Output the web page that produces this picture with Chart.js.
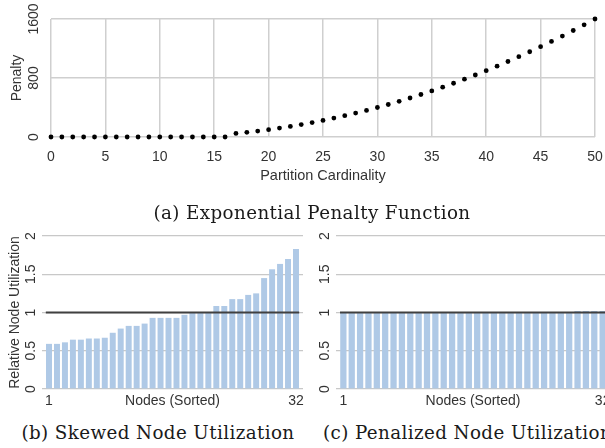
<!DOCTYPE html>
<html><head><meta charset="utf-8">
<script src="https://cdn.jsdelivr.net/npm/chart.js@4/dist/chart.umd.min.js"></script>
<style>
html,body{margin:0;padding:0;background:#fff;overflow:hidden;width:605px;height:448px;}
#wrap{position:relative;width:605px;height:448px;overflow:hidden;background:#fff;}
canvas{position:absolute;display:block;}
.cap{position:absolute;font-family:"DejaVu Serif",serif;font-size:18.3px;letter-spacing:0.4px;color:#1a1a1a;white-space:nowrap;line-height:22px;height:22px;}
</style></head><body>
<div id="wrap">
<canvas id="ca" width="605" height="195" style="left:0;top:0"></canvas>
<canvas id="cb" width="310" height="190" style="left:0;top:222px"></canvas>
<canvas id="cc" width="310" height="190" style="left:310px;top:222px"></canvas>
<div class="cap" style="left:312px;top:202px;transform:translateX(-50%)">(a) Exponential Penalty Function</div>
<div class="cap" style="left:158px;top:422px;transform:translateX(-50%)">(b) Skewed Node Utilization</div>
<div class="cap" style="left:323px;top:422px">(c) Penalized Node Utilization</div>
</div>
<script>
// ---- data ----
const cardinality = [0,1,2,3,4,5,6,7,8,9,10,11,12,13,14,15,16,17,18,19,20,21,22,23,24,25,26,27,28,29,30,31,32,33,34,35,36,37,38,39,40,41,42,43,44,45,46,47,48,49,50];
const penalty = [0,0,0,0,0,0,0,0,0,0,0,0,0,0,0,0,0,49,64,81,100,121,144,169,196,225,256,289,324,361,400,441,484,529,576,625,676,729,784,841,900,961,1024,1089,1156,1225,1296,1369,1444,1521,1600];
const penaltyTickLabels = [0, 800, 1600];

const nodes = [1,2,3,4,5,6,7,8,9,10,11,12,13,14,15,16,17,18,19,20,21,22,23,24,25,26,27,28,29,30,31,32];
const skewedUtil = [0.59,0.59,0.61,0.645,0.645,0.66,0.66,0.67,0.735,0.79,0.825,0.825,0.855,0.93,0.93,0.93,0.93,0.97,1.0,1.0,1.0,1.085,1.085,1.175,1.175,1.23,1.25,1.45,1.565,1.635,1.7,1.83];
const penalizedUtil = [1,1,1,1,1,1,1,1,1,1,1,1,1,1,1,1,1,1,1,1,1,1,1,1,1,1,1,1,1.02,1.02,1.02,1.02];
const fairShare = 1;
const fairShareSpan = [0.6, 32.4];
const nodeTickValues = [1, 16.5, 32];
const nodeAxisTitle = 'Nodes (Sorted)';

// ---- styles ----
const FONT = '"Liberation Sans", Arial, sans-serif';
const TXT = '#333333';
const GRID = '#cfcfcf';
const BAR = '#afc9e6';
const REF = '#404040';

function noPad(s) { s.paddingLeft = 0; s.paddingRight = 0; s.paddingTop = 0; s.paddingBottom = 0; }

new Chart(document.getElementById('ca'), {
  type: 'scatter',
  data: { datasets: [{
    data: cardinality.map((c, i) => ({ x: c, y: penalty[i] })),
    pointRadius: 2.4, pointBackgroundColor: '#000', pointBorderWidth: 0,
    showLine: false, clip: false
  }]},
  options: {
    responsive: false, animation: false,
    plugins: { legend: { display: false }, tooltip: { enabled: false } },
    layout: { padding: { left: 0, right: 10, top: 19, bottom: 0 } },
    scales: {
      x: {
        type: 'linear', min: 0, max: 50, offset: false,
        ticks: { stepSize: 5, color: TXT, font: { family: FONT, size: 14 }, padding: 12, maxRotation: 0 },
        grid: { color: GRID, lineWidth: 1.5, drawTicks: false },
        border: { display: false },
        title: { display: true, text: 'Partition Cardinality', color: TXT, font: { family: FONT, size: 14.5 }, padding: { top: 0, bottom: 10 } },
        afterFit(s) { s.height = 58; noPad(s); }
      },
      y: {
        min: 0, max: 1600,
        ticks: { stepSize: 400, callback: v => penaltyTickLabels.includes(v) ? String(v) : '',
                 minRotation: 90, maxRotation: 90, crossAlign: 'center', padding: 1,
                 color: TXT, font: { family: FONT, size: 14 } },
        grid: { color: GRID, lineWidth: 1.5, drawTicks: false },
        border: { display: false },
        title: { display: true, text: 'Penalty', color: TXT, font: { family: FONT, size: 14 }, padding: { top: 8.6, bottom: 0 } },
        afterFit(s) { s.width = 51; noPad(s); }
      }
    }
  }
});

function nodeChart(id, values, cfg) {
  return new Chart(document.getElementById(id), {
    data: { datasets: [
      { type: 'line', data: fairShareSpan.map(x => ({ x: x, y: fairShare })),
        borderColor: REF, borderWidth: 2, pointRadius: 0, order: 0, clip: false },
      { type: 'bar', data: nodes.map((n, i) => ({ x: n, y: values[i] })),
        backgroundColor: BAR, borderWidth: 0, barPercentage: 0.75, categoryPercentage: 1, order: 1 }
    ]},
    options: {
      responsive: false, animation: false,
      plugins: { legend: { display: false }, tooltip: { enabled: false } },
      layout: { padding: { left: 0, right: cfg.padRight, top: 14, bottom: 0 } },
      scales: {
        x: {
          type: 'linear', min: 0.12, max: 32.88, offset: false,
          afterBuildTicks(s) { s.ticks = nodeTickValues.map(v => ({ value: v })); },
          ticks: { callback: v => v === 16.5 ? nodeAxisTitle : String(v), autoSkip: false, maxRotation: 0,
                   padding: 4, color: TXT, font: { family: FONT, size: 14 } },
          grid: { display: false, drawTicks: false, offset: false },
          border: { display: false },
          afterFit(s) { s.height = 23; noPad(s); }
        },
        y: {
          min: 0, max: 2,
          ticks: { stepSize: 0.25, callback: v => (Math.abs(v * 2 - Math.round(v * 2)) < 1e-9) ? String(v) : '',
                   minRotation: 90, maxRotation: 90, crossAlign: 'center', padding: 1,
                   color: TXT, font: { family: FONT, size: 14 } },
          grid: { color: '#c8c8c8', lineWidth: 1.2, drawTicks: false },
          border: { display: false },
          title: { display: !!cfg.title, text: cfg.title || '', color: TXT, font: { family: FONT, size: 14 }, padding: { top: 6.6, bottom: 0 } },
          afterFit(s) { s.width = cfg.yWidth; noPad(s); }
        }
      }
    }
  });
}
nodeChart('cb', skewedUtil, { title: 'Relative Node Utilization', yWidth: 42, padRight: 7 });
nodeChart('cc', penalizedUtil, { title: '', yWidth: 26, padRight: 10 });
</script>
</body></html>
